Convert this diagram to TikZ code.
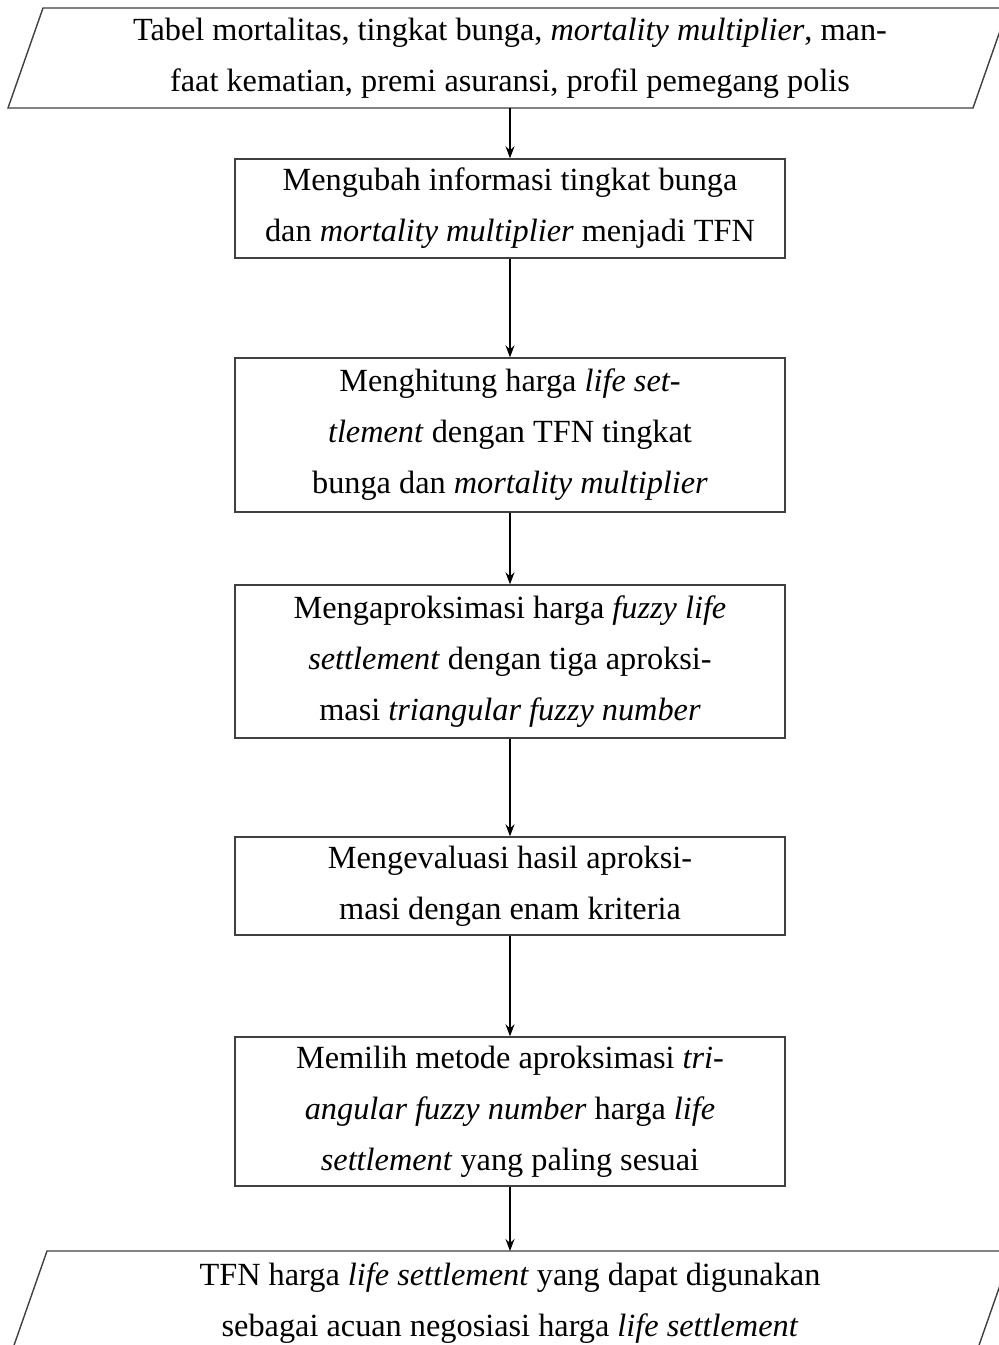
\documentclass[tikz,border=0pt]{standalone}
\usepackage{fontspec}
\setmainfont{Liberation Serif}
\usetikzlibrary{arrows.meta}
\begin{document}
\begin{tikzpicture}[x=1pt,y=-1pt,
  procbox/.style={draw=black!75, line width=1.4pt, minimum width=550pt, inner sep=0pt, align=center, font=\fontsize{32.3}{51}\selectfont},
  txt/.style={align=center, inner sep=0pt, font=\fontsize{32.3}{51}\selectfont},
  iobox/.style={draw=black!75, line width=1.4pt},
  flow/.style={-{Stealth[length=12pt,width=9pt,inset=4pt]}, line width=1.3pt}]
\useasboundingbox (0,0) rectangle (999,1345);
\clip (0,0) rectangle (999,1345);
\fill[white] (0,0) rectangle (999,1345);
% input parallelogram
\draw[iobox] (43,8) -- (1008,8) -- (973,108) -- (8,108) -- cycle;
\node[txt] (in) at (510,58) {Tabel mortalitas, tingkat bunga, \textit{mortality multiplier}, man-\\faat kematian, premi asuransi, profil pemegang polis};
\coordinate (inbot) at (510,108);
% process boxes
\node[procbox, minimum height=99pt] (b1) at (510,208.5) {\raisebox{-3pt}{Mengubah informasi tingkat bunga}\\\raisebox{-3pt}{dan \textit{mortality multiplier} menjadi TFN}};
\node[procbox, minimum height=154pt] (b2) at (510,435) {\raisebox{-3pt}{Menghitung harga \textit{life set-}}\\\raisebox{-3pt}{\textit{tlement} dengan TFN tingkat}\\\raisebox{-3pt}{bunga dan \textit{mortality multiplier}}};
\node[procbox, minimum height=153pt] (b3) at (510,661.5) {\raisebox{-3pt}{Mengaproksimasi harga \textit{fuzzy life}}\\\raisebox{-3pt}{\textit{settlement} dengan tiga aproksi-}\\\raisebox{-3pt}{masi \textit{triangular fuzzy number}}};
\node[procbox, minimum height=98pt] (b4) at (510,886) {\raisebox{-3pt}{Mengevaluasi hasil aproksi-}\\\raisebox{-3pt}{masi dengan enam kriteria}};
\node[procbox, minimum height=149pt] (b5) at (510,1111.5) {\raisebox{-3pt}{Memilih metode aproksimasi \textit{tri-}}\\\raisebox{-3pt}{\textit{angular fuzzy number} harga \textit{life}}\\\raisebox{-3pt}{\textit{settlement} yang paling sesuai}};
% output parallelogram
\draw[iobox] (47,1251) -- (1012,1251) -- (977,1351) -- (12,1351) -- cycle;
\coordinate (outtop) at (510,1251);
\node[txt] (out) at (510,1303) {TFN harga \textit{life settlement} yang dapat digunakan\\sebagai acuan negosiasi harga \textit{life settlement}};
% connectors
\draw[flow] (inbot) -- (b1.north);
\draw[flow] (b1.south) -- (b2.north);
\draw[flow] (b2.south) -- (b3.north);
\draw[flow] (b3.south) -- (b4.north);
\draw[flow] (b4.south) -- (b5.north);
\draw[flow] (b5.south) -- (outtop);
\end{tikzpicture}
\end{document}
